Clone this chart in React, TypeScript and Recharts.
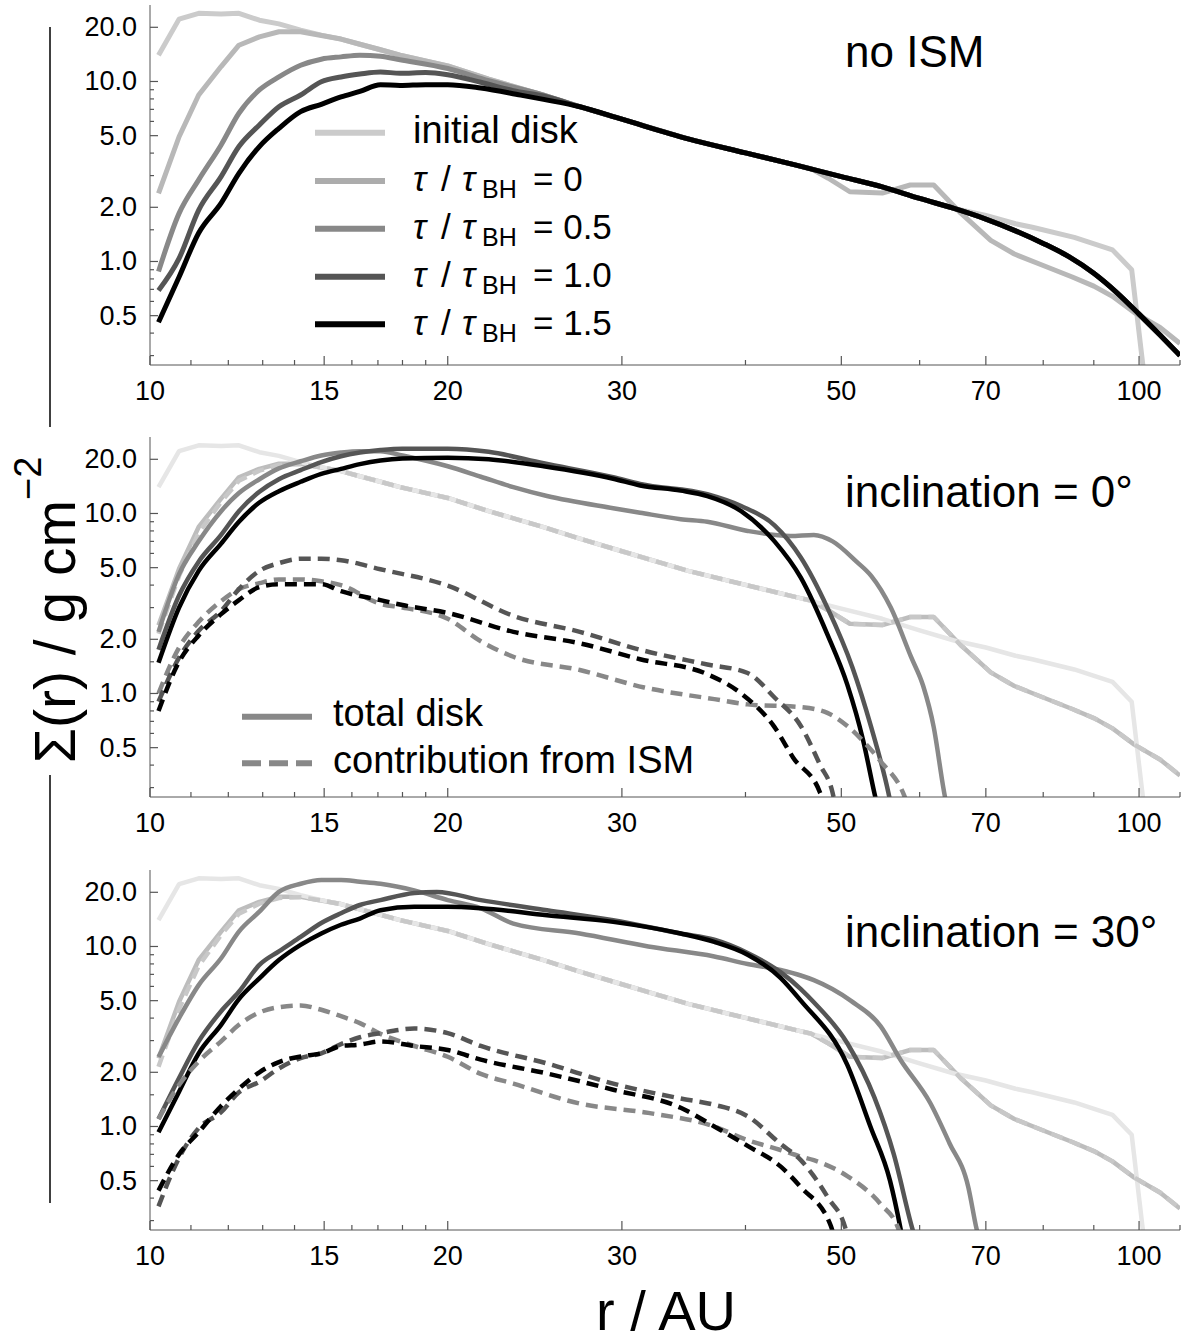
import React from "react";
import { LineChart, Line, XAxis, YAxis } from "recharts";

type P = [number, number];

const FONT = "'Liberation Sans', Arial, Helvetica, sans-serif";

// ---------- axes ----------
const xMajorTicks = [10, 15, 20, 30, 50, 70, 100];
const xMinorTicks = [11, 12, 13, 14, 16, 17, 18, 19, 40, 60, 80, 90, 110];
const yMajorTicks = [0.5, 1, 2, 5, 10, 20];
const yMajorLabels = ["0.5", "1.0", "2.0", "5.0", "10.0", "20.0"];
const yMinorTicks = [0.3, 0.4, 0.6, 0.7, 0.8, 0.9, 1.5, 3, 4, 6, 7, 8, 9];
const xDomain: [number, number] = [10, 110];
const yDomain: [number, number] = [0.266, 26.6];

// ---------- shared curves ----------
const initialDisk: P[] = [
  [10.2, 14.0], [10.7, 22.2], [11.2, 23.9], [11.8, 23.7], [12.3, 23.9], [12.9, 21.9],
  [13.5, 20.9], [14.2, 19.3], [14.9, 18.1], [15.6, 17.2], [16.3, 16.1], [17.1, 15.0],
  [17.9, 14.0], [20, 12.2], [22, 10.3], [25, 8.4], [27.2, 7.24], [30, 6.17], [35, 4.8],
  [40, 4.01], [45, 3.43], [50, 2.96], [55, 2.6], [60, 2.24], [65, 1.97], [70, 1.8],
  [75, 1.62], [78, 1.55], [86, 1.36], [94, 1.16], [98.3, 0.9], [101.5, 0.2],
];

const tau0: P[] = [
  [10.2, 2.39], [10.7, 4.93], [11.2, 8.41], [11.8, 12.1], [12.3, 15.9], [12.9, 17.7],
  [13.5, 18.9], [14.2, 18.9], [14.9, 18.0], [15.6, 17.2], [16.3, 16.1], [17.1, 15.0],
  [17.9, 14.0], [20, 12.2], [22, 10.3], [25, 8.4], [27.2, 7.24], [30, 6.17], [35, 4.8],
  [40, 4.01], [45, 3.43], [46.6, 3.28], [48.5, 2.9], [51, 2.44], [55, 2.4], [58.7, 2.66],
  [62, 2.66], [66, 1.86], [70.8, 1.31], [74.8, 1.1], [80, 0.95], [85.6, 0.82], [90, 0.73],
  [94, 0.64], [98.9, 0.52], [105, 0.43], [110, 0.35],
];

const tau0Contribution: P[] = [
  [10.2, 2.15], [10.7, 4.5], [11.2, 7.8], [11.8, 11.6], [12.3, 15.2], [12.9, 17.3],
  [13.5, 18.6], [14.2, 18.8], [14.9, 18.0], [15.6, 17.2], [16.3, 16.1], [17.1, 15.0],
  [17.9, 14.0], [20, 12.2], [22, 10.3], [25, 8.4], [27.2, 7.24], [30, 6.17], [35, 4.8],
  [40, 4.01], [45, 3.43], [46.6, 3.28], [48.5, 2.9], [51, 2.44], [55, 2.4], [58.7, 2.66],
  [62, 2.66], [66, 1.86], [70.8, 1.31], [74.8, 1.1], [80, 0.95], [85.6, 0.82], [90, 0.73],
  [94, 0.64], [98.9, 0.52], [105, 0.43], [110, 0.35],
];

const noIsmOuter: P[] = [
  [27.2, 7.24], [30, 6.17], [35, 4.8], [40, 4.01], [45, 3.43], [50, 2.96], [55, 2.6],
  [60, 2.24], [65, 1.97], [70, 1.72], [75, 1.48], [80, 1.26], [85, 1.06], [90, 0.86],
  [95, 0.67], [100, 0.51], [105, 0.39], [110, 0.3],
];

// ---------- panel 1: no ISM ----------
const noIsmTau05: P[] = [
  [10.2, 0.88], [10.7, 1.85], [11.2, 2.84], [11.8, 4.44], [12.3, 6.66], [12.9, 8.97],
  [13.5, 10.6], [14.2, 12.3], [14.9, 13.3], [15.6, 13.7], [16.3, 14.0], [17.1, 13.8],
  [17.9, 13.2], [20, 11.8], [22, 10.1], [25, 8.4], ...noIsmOuter,
];
const noIsmTau10: P[] = [
  [10.2, 0.69], [10.7, 1.04], [11.2, 1.93], [11.8, 2.96], [12.3, 4.35], [12.9, 5.73],
  [13.5, 7.24], [14.2, 8.41], [14.9, 9.97], [15.6, 10.6], [16.3, 11.0], [17.1, 11.3],
  [17.9, 11.1], [19, 11.2], [20, 10.9], [21.6, 9.9], [23.3, 8.9], [25, 8.3], ...noIsmOuter,
];
const noIsmTau15: P[] = [
  [10.2, 0.46], [10.7, 0.82], [11.2, 1.44], [11.8, 2.11], [12.3, 3.09], [12.9, 4.35],
  [13.5, 5.49], [14.2, 6.8], [14.9, 7.47], [15.6, 8.2], [16.3, 8.8], [17.1, 9.6],
  [17.9, 9.5], [19, 9.6], [20, 9.6], [21.6, 9.2], [23.7, 8.4], [25, 7.95], ...noIsmOuter,
];

// ---------- panel 2: inclination 0 ----------
const inc0Tau05: P[] = [
  [10.2, 2.2], [10.7, 4.6], [11.2, 7.0], [11.8, 10.3], [12.3, 13.0], [12.9, 15.5],
  [13.5, 17.8], [14.2, 19.5], [14.9, 21.0], [15.6, 21.8], [16.3, 22.2], [17.1, 22.2],
  [18, 21.0], [20, 18.3], [21.6, 16.0], [23.3, 14.0], [25.2, 12.5], [29.4, 10.7],
  [31.3, 10.1], [34.4, 9.3], [36.6, 9.0], [40.2, 8.0], [44.4, 7.5], [46.9, 7.6], [49, 7.0],
  [51.8, 5.4], [53.6, 4.5], [56.1, 3.0], [58.8, 1.6], [60.5, 1.1], [62, 0.65], [63.4, 0.3],
  [64.5, 0.18],
];
const inc0Tau10: P[] = [
  [10.2, 1.75], [10.7, 3.5], [11.2, 5.4], [11.8, 7.6], [12.3, 10.3], [12.9, 13.2],
  [13.5, 15.5], [14.2, 17.4], [14.9, 19.3], [15.6, 20.8], [16.3, 21.8], [17.1, 22.5],
  [18, 22.9], [20, 22.9], [22, 22.0], [25, 19.0], [29.4, 15.9], [31.3, 14.6], [36.6, 12.8],
  [39.6, 11.0], [42.8, 8.6], [45.5, 5.7], [48.4, 3.0], [51.3, 1.4], [53.6, 0.65],
  [55.8, 0.28], [56.5, 0.2],
];
const inc0Tau15: P[] = [
  [10.2, 1.48], [10.7, 3.0], [11.2, 4.8], [11.8, 6.8], [12.3, 9.0], [12.9, 11.5],
  [13.5, 13.3], [14.2, 15.0], [14.9, 16.6], [15.6, 17.7], [16.3, 18.8], [17.1, 19.7],
  [18, 20.2], [20, 20.4], [22, 20.0], [25, 18.3], [29.4, 15.6], [31.3, 14.3], [34.4, 13.4],
  [36.6, 12.5], [39.6, 10.3], [42.8, 7.0], [45.5, 4.4], [48.4, 2.13], [50.7, 1.12],
  [52.6, 0.55], [54, 0.28], [55, 0.18],
];
const inc0Ism05: P[] = [
  [10.2, 1.0], [10.7, 1.8], [11.2, 2.5], [11.8, 3.26], [12.3, 3.8], [12.9, 4.1],
  [13.5, 4.3], [14.2, 4.3], [14.9, 4.2], [15.6, 4.0], [17.1, 3.15], [18, 3.0], [20, 2.6],
  [21.6, 1.95], [23.3, 1.6], [27.2, 1.35], [31.6, 1.08], [37.2, 0.93], [40.2, 0.87],
  [45.5, 0.84], [48.4, 0.78], [50.7, 0.66], [52.5, 0.55], [54.8, 0.42], [57.9, 0.27],
  [59, 0.2],
];
const inc0Ism10: P[] = [
  [10.2, 0.9], [10.7, 1.58], [11.2, 2.23], [11.8, 2.87], [12.3, 3.8], [12.9, 4.8],
  [13.5, 5.3], [14.2, 5.6], [14.9, 5.6], [15.6, 5.5], [17.1, 4.9], [20, 3.97], [23.3, 2.7],
  [27.2, 2.2], [31.3, 1.75], [36.6, 1.45], [40.2, 1.3], [42.8, 0.95], [45.5, 0.66],
  [47.6, 0.4], [49, 0.28], [49.6, 0.2],
];
const inc0Ism15: P[] = [
  [10.2, 0.8], [10.7, 1.5], [11.2, 2.1], [11.8, 2.76], [12.3, 3.3], [12.9, 3.9],
  [13.5, 4.05], [14.2, 4.05], [14.9, 4.05], [15.6, 3.7], [17.1, 3.3], [18, 3.1], [20, 2.8],
  [23.3, 2.2], [27.2, 1.9], [31.3, 1.55], [36.6, 1.28], [39.6, 1.0], [42.8, 0.65],
  [44.7, 0.44], [47.6, 0.28], [48.5, 0.2],
];

// ---------- panel 3: inclination 30 ----------
const inc30Tau05: P[] = [
  [10.2, 2.43], [10.7, 4.0], [11.2, 6.1], [11.8, 8.6], [12.3, 12.1], [12.9, 15.6],
  [13.5, 20.1], [14.2, 22.3], [14.9, 23.4], [15.6, 23.4], [16.3, 22.9], [17.1, 22.3],
  [18.5, 20.5], [20, 18.1], [21.6, 16.3], [23.3, 13.4], [27.2, 11.8], [31.9, 10.0],
  [37.2, 8.8], [40.2, 8.0], [43.4, 7.4], [45.5, 6.9], [46.9, 6.5], [51.1, 5.0], [54.8, 3.6],
  [57.4, 2.34], [61.5, 1.35], [64.3, 0.81], [67.2, 0.46], [68.5, 0.27], [69.5, 0.2],
];
const inc30Tau10: P[] = [
  [10.2, 1.1], [10.7, 1.86], [11.2, 2.97], [11.8, 4.37], [12.3, 5.6], [12.9, 7.9],
  [13.5, 9.4], [14.2, 11.3], [14.9, 13.5], [15.6, 15.3], [16.3, 17.0], [17.1, 18.1],
  [18.5, 19.8], [19.5, 20.1], [21.6, 18.1], [25.2, 15.9], [29.4, 14.0], [34.4, 11.8],
  [37.2, 10.9], [40.2, 9.2], [43.4, 7.2], [45.5, 5.8], [46.9, 4.9], [50.7, 2.9], [54, 1.45],
  [56.5, 0.7], [59, 0.27], [60, 0.2],
];
const inc30Tau15: P[] = [
  [10.2, 0.93], [10.7, 1.56], [11.2, 2.55], [11.8, 3.67], [12.3, 5.1], [12.9, 6.65],
  [13.5, 8.4], [14.2, 10.2], [14.9, 11.8], [15.6, 13.2], [16.3, 14.3], [17.1, 15.9],
  [18.5, 16.6], [20, 16.6], [21.6, 16.3], [25.2, 14.9], [29.4, 13.7], [34.4, 11.8],
  [37.2, 10.6], [40.2, 9.0], [43.4, 6.7], [45.5, 5.0], [50.7, 2.2], [53.5, 1.0], [56, 0.5],
  [57.4, 0.27], [58, 0.2],
];
const inc30Ism05: P[] = [
  [10.2, 1.1], [10.7, 1.7], [11.2, 2.3], [11.8, 2.97], [12.3, 3.67], [12.9, 4.3],
  [13.5, 4.6], [14.2, 4.7], [14.9, 4.45], [15.6, 4.1], [16.3, 3.75], [17.1, 3.27],
  [18.5, 2.8], [20, 2.44], [21.6, 1.96], [23.3, 1.73], [27.2, 1.34], [31.9, 1.19],
  [37.2, 1.0], [40.2, 0.84], [43.4, 0.74], [45.5, 0.68], [46.9, 0.65], [50.7, 0.53],
  [54.8, 0.37], [57.1, 0.27], [58, 0.2],
];
const inc30Ism10: P[] = [
  [10.2, 0.36], [10.7, 0.67], [11.2, 0.98], [11.8, 1.2], [12.3, 1.55], [12.9, 1.77],
  [13.5, 2.1], [14.2, 2.4], [14.9, 2.55], [15.6, 2.87], [16.3, 3.13], [17.1, 3.3],
  [18.5, 3.5], [20, 3.3], [21.6, 2.8], [25.2, 2.24], [29.4, 1.73], [34.4, 1.43],
  [37.2, 1.32], [40.2, 1.14], [43.4, 0.8], [45.5, 0.65], [46.9, 0.53], [48.5, 0.4],
  [50.5, 0.27], [51, 0.2],
];
const inc30Ism15: P[] = [
  [10.2, 0.44], [10.7, 0.7], [11.2, 0.93], [11.8, 1.3], [12.3, 1.62], [12.9, 2.0],
  [13.5, 2.28], [14.2, 2.45], [14.9, 2.55], [15.6, 2.8], [16.3, 2.85], [17.1, 2.97],
  [18.5, 2.8], [20, 2.66], [21.6, 2.35], [25.2, 1.97], [29.4, 1.6], [34.4, 1.27],
  [37.2, 1.0], [40.2, 0.78], [43.4, 0.6], [45.5, 0.46], [48.8, 0.28], [49.5, 0.2],
];

// ---------- legend / labels ----------
const topLegendColors = ["#cbcbcb", "#acacac", "#888888", "#555555", "#000000"];
const topLegendValues = ["0", "0.5", "1.0", "1.5"];
const panelLabels = ["no ISM", "inclination = 0°", "inclination = 30°"];

type Series = { data: P[]; color: string; width: number; dash?: string; curve?: "linear" | "monotone" };

const DASH = "12 7";

const topSeries: Series[] = [
  { data: initialDisk, color: "#cbcbcb", width: 5, curve: "linear" },
  { data: tau0, color: "#b8b8b8", width: 5, curve: "linear" },
  { data: noIsmTau05, color: "#888888", width: 5, curve: "monotone" },
  { data: noIsmTau10, color: "#555555", width: 5, curve: "monotone" },
  { data: noIsmTau15, color: "#000000", width: 5, curve: "monotone" },
];

const midSeries: Series[] = [
  { data: tau0, color: "#bdbdbd", width: 4.5, curve: "linear" },
  { data: initialDisk, color: "#e6e6e6", width: 4.5, curve: "linear" },
  { data: tau0Contribution, color: "#c8c8c8", width: 4.5, dash: DASH, curve: "linear" },
  { data: inc0Tau05, color: "#888888", width: 4.5, curve: "monotone" },
  { data: inc0Tau10, color: "#555555", width: 4.5, curve: "monotone" },
  { data: inc0Tau15, color: "#000000", width: 4.5, curve: "monotone" },
  { data: inc0Ism05, color: "#888888", width: 4.5, dash: DASH, curve: "monotone" },
  { data: inc0Ism10, color: "#555555", width: 4.5, dash: DASH, curve: "monotone" },
  { data: inc0Ism15, color: "#000000", width: 4.5, dash: DASH, curve: "monotone" },
];

const botSeries: Series[] = [
  { data: tau0, color: "#bdbdbd", width: 4.5, curve: "linear" },
  { data: initialDisk, color: "#e6e6e6", width: 4.5, curve: "linear" },
  { data: tau0Contribution, color: "#c8c8c8", width: 4.5, dash: DASH, curve: "linear" },
  { data: inc30Tau05, color: "#888888", width: 4.5, curve: "monotone" },
  { data: inc30Tau10, color: "#555555", width: 4.5, curve: "monotone" },
  { data: inc30Tau15, color: "#000000", width: 4.5, curve: "monotone" },
  { data: inc30Ism05, color: "#888888", width: 4.5, dash: DASH, curve: "monotone" },
  { data: inc30Ism10, color: "#555555", width: 4.5, dash: DASH, curve: "monotone" },
  { data: inc30Ism15, color: "#000000", width: 4.5, dash: DASH, curve: "monotone" },
];

const toPts = (a: P[]) => a.map(([r, v]) => ({ r, v }));

const AXIS = "#555555";

const XTick = (props: any) => {
  const { x, y, payload } = props;
  const v = payload.value;
  const major = xMajorTicks.includes(v);
  return (
    <g>
      <line x1={x} x2={x} y1={y} y2={y - (major ? 9 : 5)} stroke={AXIS} strokeWidth={1.2} />
      {major && (
        <text x={x} y={y + 35} textAnchor="middle" fontSize={27} fill="#000" fontFamily={FONT}>
          {String(v)}
        </text>
      )}
    </g>
  );
};

const YTick = (props: any) => {
  const { x, y, payload } = props;
  const v = payload.value;
  const idx = yMajorTicks.indexOf(v);
  const major = idx >= 0;
  return (
    <g>
      <line x1={x} x2={x + (major ? 8 : 4)} y1={y} y2={y} stroke={AXIS} strokeWidth={1.2} />
      {major && (
        <text x={x - 13} y={y + 9} textAnchor="end" fontSize={27} fill="#000" fontFamily={FONT}>
          {yMajorLabels[idx]}
        </text>
      )}
    </g>
  );
};

const Panel = ({ top, series }: { top: number; series: Series[] }) => (
  <div style={{ position: "absolute", left: 0, top, width: 1182, height: 410 }}>
    <LineChart width={1182} height={410} margin={{ top: 5, right: 2, bottom: 0, left: 0 }}>
      <XAxis
        dataKey="r"
        type="number"
        scale="log"
        domain={xDomain}
        allowDataOverflow
        ticks={[...xMajorTicks, ...xMinorTicks]}
        interval={0}
        tickSize={0}
        tickMargin={0}
        tickLine={false}
        height={45}
        stroke={AXIS}
        tick={(p: any) => <XTick {...p} />}
      />
      <YAxis
        dataKey="v"
        type="number"
        scale="log"
        domain={yDomain}
        allowDataOverflow
        ticks={[...yMajorTicks, ...yMinorTicks]}
        interval={0}
        tickSize={0}
        tickMargin={0}
        tickLine={false}
        width={150}
        stroke={AXIS}
        tick={(p: any) => <YTick {...p} />}
      />
      {series.map((s, i) => (
        <Line
          key={i}
          data={toPts(s.data)}
          dataKey="v"
          type={s.curve || "linear"}
          stroke={s.color}
          strokeWidth={s.width}
          strokeDasharray={s.dash}
          strokeLinejoin="round"
          dot={false}
          activeDot={false}
          isAnimationActive={false}
        />
      ))}
    </LineChart>
  </div>
);

const TauRow = ({ y, value }: { y: number; value: string }) => (
  <g fontFamily={FONT} fill="#000">
    <text x={413} y={y} fontSize={35} fontStyle="italic">τ</text>
    <text x={441} y={y} fontSize={35}>/</text>
    <text x={462} y={y} fontSize={35} fontStyle="italic">τ</text>
    <text x={482} y={y + 7} fontSize={25}>BH</text>
    <text x={533} y={y} fontSize={35}>{"= " + value}</text>
  </g>
);

export default function App() {
  const legendYs = [132.7, 181, 228.7, 276.7, 324.3];
  return (
    <div style={{ position: "absolute", left: 0, top: 0, width: 1182, height: 1342, background: "#fff" }}>
      <Panel top={0} series={topSeries} />
      <Panel top={432.3} series={midSeries} />
      <Panel top={865} series={botSeries} />
      <svg
        width={1182}
        height={1342}
        style={{ position: "absolute", left: 0, top: 0, pointerEvents: "none" }}
        fontFamily={FONT}
      >
        {/* left bracket lines */}
        <line x1={50} y1={27} x2={50} y2={427} stroke="#000" strokeWidth={1.5} />
        <line x1={50} y1={775} x2={50} y2={1203} stroke="#000" strokeWidth={1.5} />
        {/* y-axis title */}
        <text transform="translate(75,610) rotate(-90)" textAnchor="middle" fontSize={57} fill="#000">
          Σ(r) / g cm<tspan fontSize={38} dy={-34}>−2</tspan>
        </text>
        {/* x-axis title */}
        <text x={666} y={1330} textAnchor="middle" fontSize={56} fill="#000">r / AU</text>

        {/* panel labels */}
        <text x={845} y={66.7} fontSize={44} fill="#000">{panelLabels[0]}</text>
        <text x={845} y={507} fontSize={44} fill="#000">{panelLabels[1]}</text>
        <text x={845} y={946.7} fontSize={44} fill="#000">{panelLabels[2]}</text>

        {/* top legend */}
        {legendYs.map((ly, i) => (
          <line key={i} x1={315} x2={385} y1={ly} y2={ly} stroke={topLegendColors[i]} strokeWidth={6} />
        ))}
        <text x={413} y={143} fontSize={38} fill="#000">initial disk</text>
        {topLegendValues.map((v, i) => (
          <TauRow key={v} y={191 + i * 48} value={v} />
        ))}

        {/* middle legend */}
        <line x1={242} x2={312} y1={716.7} y2={716.7} stroke="#888888" strokeWidth={6} />
        <line x1={242} x2={312} y1={763.3} y2={763.3} stroke="#888888" strokeWidth={6} strokeDasharray="19 8" />
        <text x={333} y={726} fontSize={38} fill="#000">total disk</text>
        <text x={333} y={773} fontSize={38} fill="#000">contribution from ISM</text>
      </svg>
    </div>
  );
}
